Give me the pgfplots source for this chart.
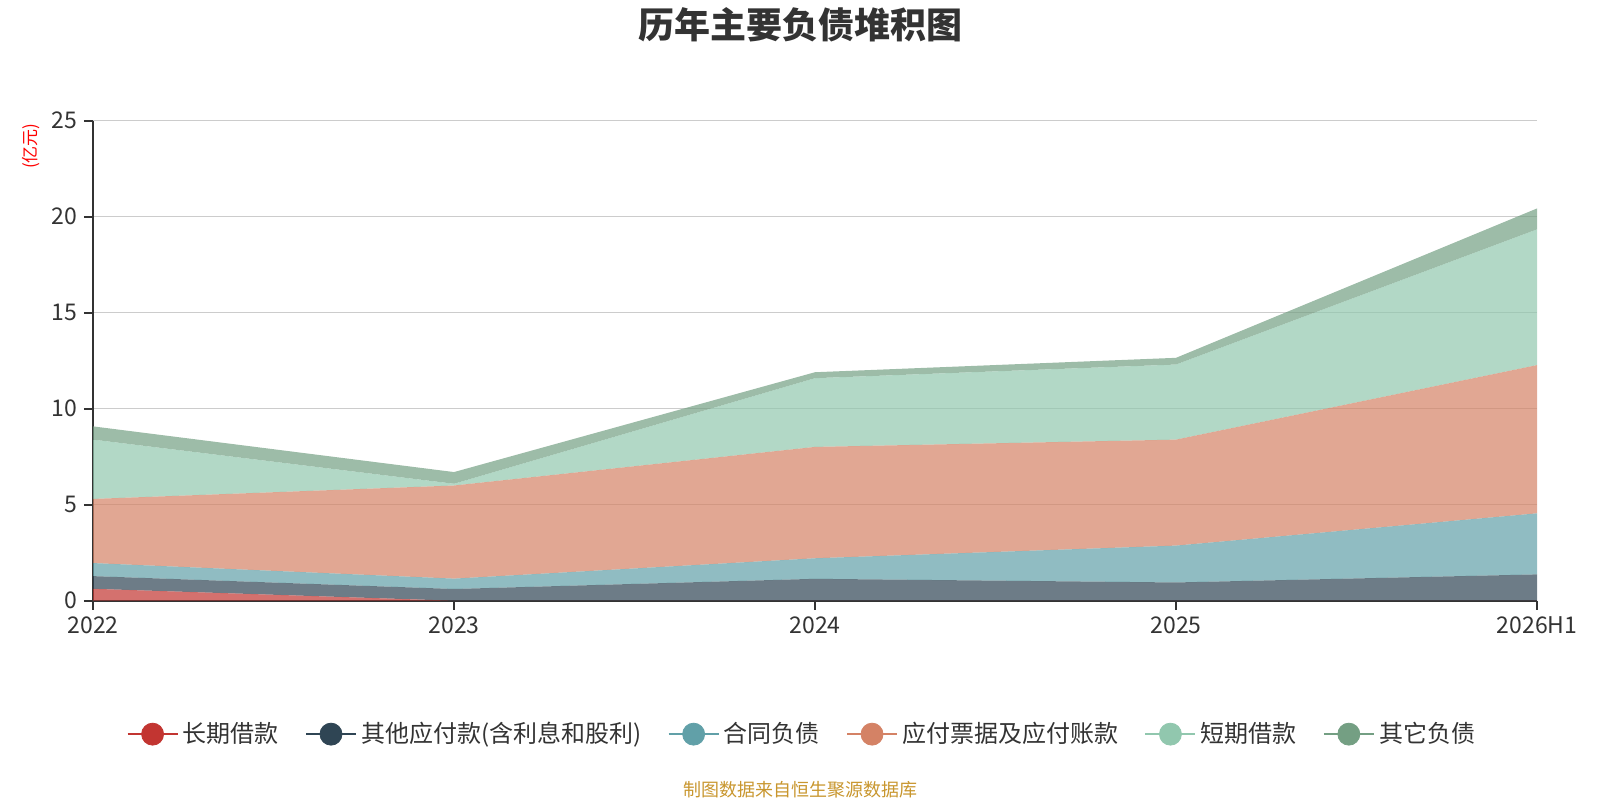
\documentclass[border=0pt]{standalone}
\usepackage{fontspec}
\setmainfont{Noto Sans CJK SC}
\usepackage{pgfplots}
\pgfplotsset{compat=1.18}
\definecolor{cred}{HTML}{C23531}
\definecolor{cdark}{HTML}{2F4554}
\definecolor{cteal}{HTML}{61A0A8}
\definecolor{csalmon}{HTML}{D48265}
\definecolor{cgreen}{HTML}{91C7AE}
\definecolor{cdgreen}{HTML}{749F83}
\definecolor{ctext}{HTML}{333333}
\definecolor{cgrid}{HTML}{CCCCCC}
\definecolor{cgold}{HTML}{C8962E}
\begin{document}
\begin{tikzpicture}[x=1pt,y=1pt]
\useasboundingbox (0,0) rectangle (800,400);
\node[font=\fontsize{18}{20}\selectfont\bfseries, text=ctext] at (400,387.5) {历年主要负债堆积图};
\node[font=\fontsize{8.5}{10}\selectfont, text=red, rotate=90] at (15.5,327) {(亿元)};
\node[font=\fontsize{9}{11}\selectfont, text=cgold] at (400,5) {制图数据来自恒生聚源数据库};
\begin{axis}[
  at={(46.5pt,99.65pt)}, anchor=south west,
  width=722pt, height=240pt, scale only axis,
  xmin=0, xmax=4, ymin=0, ymax=25,
  xtick={0,1,2,3,4}, xticklabels={2022,2023,2024,2025,2026H1},
  ytick={0,5,10,15,20,25},
  ymajorgrids, grid style={cgrid, line width=0.6pt},
  axis x line*=bottom, axis y line*=left,
  axis line style={ctext, line width=0.8pt, -},
  tick style={ctext, line width=0.8pt},
  tick align=outside, major tick length=4.5pt,
  ticklabel style={font=\fontsize{11.5}{13}\selectfont, text=ctext},
  /pgf/number format/assume math mode=true,
  stack plots=y,
  legend columns=6,
  legend style={draw=none, fill=none, at={(0.4915,-0.278)}, anchor=center,
    font=\fontsize{12}{14}\selectfont, text=ctext,
    /tikz/every even column/.append style={column sep=11pt}},
  legend image code/.code={\draw[#1, line width=1.2pt] (0pt,0pt) -- (25pt,0pt); \fill[#1] (12.5pt,0pt) circle (5.5pt);},
]
\addplot[forget plot, draw=none, fill=cred, fill opacity=0.7] coordinates {(0,0.62) (1,0) (2,0) (3,0) (4,0)} \closedcycle;
\addplot[forget plot, draw=none, fill=cdark, fill opacity=0.7] coordinates {(0,0.66) (1,0.61) (2,1.14) (3,0.95) (4,1.37)} \closedcycle;
\addplot[forget plot, draw=none, fill=cteal, fill opacity=0.7] coordinates {(0,0.68) (1,0.54) (2,1.07) (3,1.92) (4,3.18)} \closedcycle;
\addplot[forget plot, draw=none, fill=csalmon, fill opacity=0.7] coordinates {(0,3.34) (1,4.85) (2,5.80) (3,5.52) (4,7.72)} \closedcycle;
\addplot[forget plot, draw=none, fill=cgreen, fill opacity=0.7] coordinates {(0,3.09) (1,0.09) (2,3.58) (3,3.91) (4,7.07)} \closedcycle;
\addplot[forget plot, draw=none, fill=cdgreen, fill opacity=0.7] coordinates {(0,0.69) (1,0.61) (2,0.31) (3,0.35) (4,1.09)} \closedcycle;
\addlegendimage{cred}\addlegendentry{长期借款}
\addlegendimage{cdark}\addlegendentry{其他应付款(含利息和股利)}
\addlegendimage{cteal}\addlegendentry{合同负债}
\addlegendimage{csalmon}\addlegendentry{应付票据及应付账款}
\addlegendimage{cgreen}\addlegendentry{短期借款}
\addlegendimage{cdgreen}\addlegendentry{其它负债}
\end{axis}
\end{tikzpicture}
\end{document}
